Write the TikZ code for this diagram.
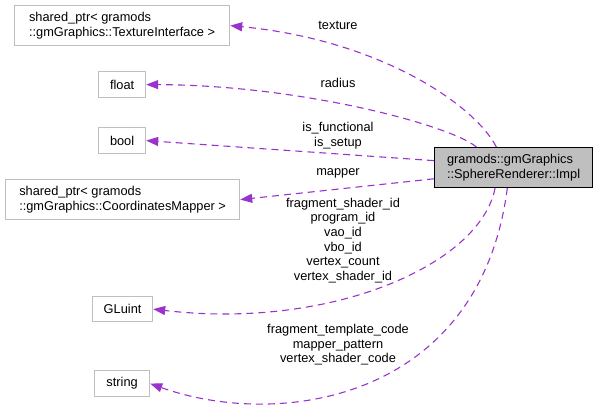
\documentclass[tikz,border=0pt]{standalone}
\usepackage{fontspec}
\setmainfont{Liberation Sans}
\usetikzlibrary{arrows.meta}
\definecolor{edgepurple}{HTML}{9A32CD}
\definecolor{boxgray}{HTML}{BFBFBF}
\tikzset{
  member/.style={draw=boxgray, line width=1.2pt, anchor=north west, align=left, inner sep=0pt},
  mainbox/.style={member, fill=boxgray, draw=black},
  uses/.style={edgepurple, line width=1.1pt, dash pattern=on 7pt off 5pt, -{Triangle[length=12pt, width=9pt]}},
  lbl/.style={align=center, inner sep=0pt},
}
\begin{document}
\begin{tikzpicture}[x=1pt, y=-1pt, font=\fontsize{12.8}{14.6}\selectfont]
    \useasboundingbox (0,0) rectangle (597,410);
    % class boxes
    \node[member, minimum width=215pt, minimum height=40pt] (texture) at (14,5) {shared\_ptr< gramods\\::gmGraphics::TextureInterface >};
    \node[member, minimum width=47pt, minimum height=26pt] (float) at (98,71) {float};
    \node[member, minimum width=47pt, minimum height=26pt] (bool) at (98,127) {bool};
    \node[member, minimum width=234pt, minimum height=40pt] (mapper) at (5,179) {shared\_ptr< gramods\\::gmGraphics::CoordinatesMapper >};
    \node[member, minimum width=60pt, minimum height=25pt] (gluint) at (92,296) {GLuint};
    \node[member, minimum width=55pt, minimum height=26pt] (string) at (94,370) {string};
    \node[mainbox, minimum width=158pt, minimum height=40pt] (impl) at (434,147) {gramods::gmGraphics\\::SphereRenderer::Impl};
    % member edges
    \draw[uses] (impl.130) .. controls (475,105) and (380,40) .. (texture.east);
    \draw[uses] (impl.151) .. controls (450,125) and (300,85) .. (float.east);
    \draw[uses] (impl.175) -- (bool.east);
    \draw[uses] (impl.188) -- (mapper.east);
    \draw[uses] (impl.228) .. controls (480,265) and (330,330) .. (gluint.east);
    \draw[uses] (impl.253) .. controls (480,400) and (280,430) .. (string.east);
    % edge labels
    \node[lbl] (ltexture) at (338,25) {texture};
    \node[lbl] (lradius) at (338,83) {radius};
    \node[lbl] (lflags) at (338,135.5) {is\_functional\\is\_setup};
    \node[lbl] (lmapper) at (338,173) {mapper};
    \node[lbl] (lids) at (343,240.5) {fragment\_shader\_id\\program\_id\\vao\_id\\vbo\_id\\vertex\_count\\vertex\_shader\_id};
    \node[lbl] (lcode) at (338,345) {fragment\_template\_code\\mapper\_pattern\\vertex\_shader\_code};
\end{tikzpicture}
\end{document}
